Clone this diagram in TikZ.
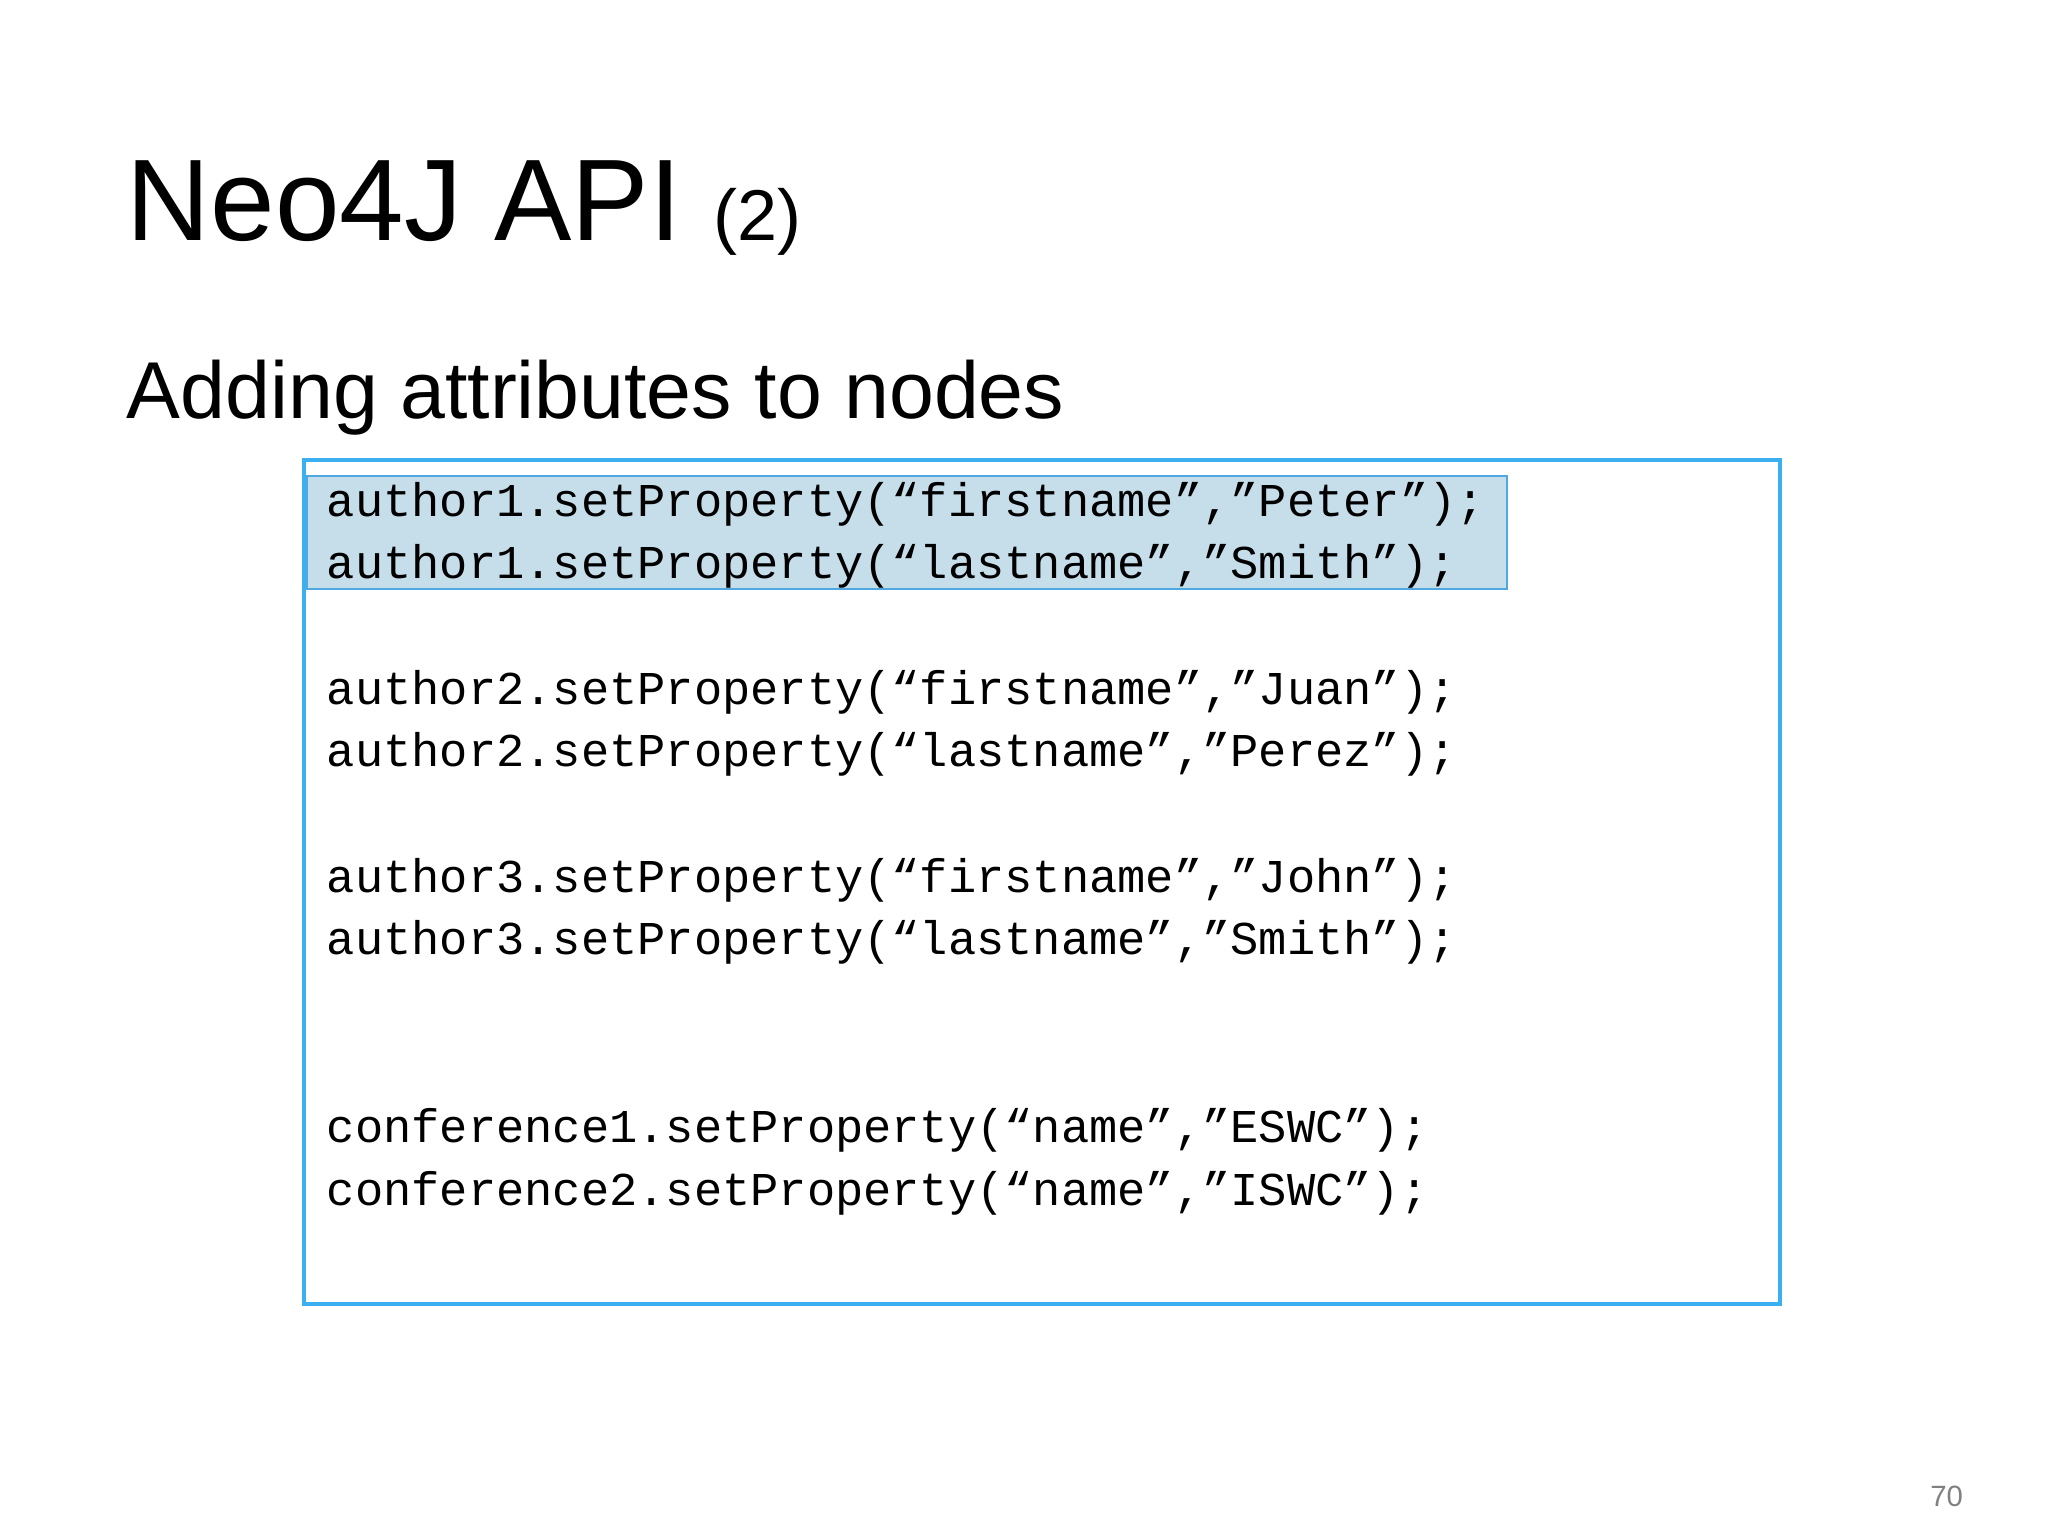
\documentclass[tikz,border=0pt]{standalone}
\usepackage{fontspec}
\setmainfont{Liberation Sans}
\setmonofont{Liberation Mono}
\definecolor{boxblue}{HTML}{3BB0F0}
\definecolor{hlfill}{HTML}{C6DDEA}
\definecolor{hlline}{HTML}{4FA8E0}
\tikzset{codeline/.style={anchor=west,inner sep=0pt,font=\fontsize{35.3}{40}\ttfamily}}
\begin{document}
\begin{tikzpicture}[x=1pt,y=-1pt]
\useasboundingbox (0,0) rectangle (1536,1152);
\fill[hlfill] (230,357) rectangle (1130,442);
\draw[hlline,line width=1.5] (230,357) rectangle (1130,442);
\draw[boxblue,line width=3.5] (228,345) rectangle (1335,978);
\node[anchor=base west,inner sep=0pt,font=\fontsize{87}{96}\selectfont] (title) at (95,180) {Neo4J API \fontsize{54}{60}\selectfont(2)};
\node[anchor=base west,inner sep=0pt,font=\fontsize{60.5}{70}\selectfont] (sub) at (95,314) {Adding attributes to nodes};
\node[codeline] (l1) at (245,378) {author1.setProperty(“firstname”,”Peter”);};
\node[codeline] (l2) at (245,425) {author1.setProperty(“lastname”,”Smith”);};
\node[codeline] (l3) at (245,519) {author2.setProperty(“firstname”,”Juan”);};
\node[codeline] (l4) at (245,566) {author2.setProperty(“lastname”,”Perez”);};
\node[codeline] (l5) at (245,660) {author3.setProperty(“firstname”,”John”);};
\node[codeline] (l6) at (245,707) {author3.setProperty(“lastname”,”Smith”);};
\node[codeline] (l7) at (245,848) {conference1.setProperty(“name”,”ESWC”);};
\node[codeline] (l8) at (245,895) {conference2.setProperty(“name”,”ISWC”);};
\node[gray,font=\fontsize{22}{24}\selectfont] (page) at (1460,1122) {70};
\end{tikzpicture}
\end{document}
